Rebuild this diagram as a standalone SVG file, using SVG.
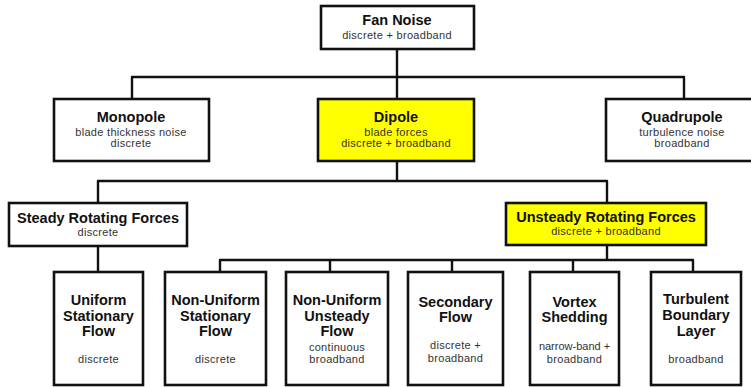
<svg xmlns="http://www.w3.org/2000/svg" width="751" height="387" viewBox="0 0 751 387">
<style>
.box{fill:#fff;stroke:#111;stroke-width:2.6}
.hl{fill:#ffff00}
.t{font-family:"Liberation Sans",Arial,sans-serif;font-weight:bold;font-size:14.5px;fill:#111;text-anchor:middle}
.s{font-family:"Liberation Sans",Arial,sans-serif;font-size:11px;letter-spacing:0.3px;fill:#333;text-anchor:middle}
.c{fill:none;stroke:#111;stroke-width:2.4;stroke-linejoin:round}
</style>
<rect width="751" height="387" fill="#fff"/>
<g id="connectors">
<path class="c" d="M397 49V99M132 99V77H684V99"/>
<path class="c" d="M397 161V181M98 203V181H607V203"/>
<path class="c" d="M98 246V272"/>
<path class="c" d="M607 245V260M220 272V260H693V272M330 260V272M452 260V272M573 260V272"/>
</g>
<g id="fan-noise">
<rect class="box" x="321" y="6" width="153" height="43"/>
<text class="t" x="397" y="25">Fan Noise</text>
<text class="s" x="397" y="39">discrete + broadband</text>
</g>
<g id="monopole">
<rect class="box" x="54" y="99" width="155" height="62"/>
<text class="t" x="131" y="122">Monopole</text>
<text class="s" x="131" y="136">blade thickness noise</text>
<text class="s" x="131" y="147">discrete</text>
</g>
<g id="dipole">
<rect class="box hl" x="318" y="99" width="156" height="62"/>
<text class="t" x="396" y="122">Dipole</text>
<text class="s" x="396" y="136">blade forces</text>
<text class="s" x="396" y="147">discrete + broadband</text>
</g>
<g id="quadrupole">
<rect class="box" x="606" y="99" width="152" height="62"/>
<text class="t" x="682" y="122">Quadrupole</text>
<text class="s" x="682" y="136">turbulence noise</text>
<text class="s" x="682" y="147">broadband</text>
</g>
<g id="steady">
<rect class="box" x="9" y="203" width="178" height="43"/>
<text class="t" x="98" y="223">Steady Rotating Forces</text>
<text class="s" x="98" y="236">discrete</text>
</g>
<g id="unsteady">
<rect class="box hl" x="506" y="203" width="200" height="42"/>
<text class="t" x="606" y="222">Unsteady Rotating Forces</text>
<text class="s" x="606" y="235">discrete + broadband</text>
</g>
<g id="uniform-stationary">
<rect class="box" x="54" y="272" width="89" height="113"/>
<text class="t" x="98.5" y="305">Uniform</text>
<text class="t" x="98.5" y="321">Stationary</text>
<text class="t" x="98.5" y="336">Flow</text>
<text class="s" x="98.5" y="363">discrete</text>
</g>
<g id="non-uniform-stationary">
<rect class="box" x="165" y="272" width="101" height="113"/>
<text class="t" x="215.5" y="305">Non-Uniform</text>
<text class="t" x="215.5" y="321">Stationary</text>
<text class="t" x="215.5" y="336">Flow</text>
<text class="s" x="215.5" y="363">discrete</text>
</g>
<g id="non-uniform-unsteady">
<rect class="box" x="286" y="272" width="102" height="113"/>
<text class="t" x="337" y="305">Non-Uniform</text>
<text class="t" x="337" y="321">Unsteady</text>
<text class="t" x="337" y="336">Flow</text>
<text class="s" x="337" y="351">continuous</text>
<text class="s" x="337" y="363">broadband</text>
</g>
<g id="secondary-flow">
<rect class="box" x="408" y="272" width="95" height="113"/>
<text class="t" x="455.5" y="307">Secondary</text>
<text class="t" x="455.5" y="322">Flow</text>
<text class="s" x="455.5" y="349">discrete +</text>
<text class="s" x="455.5" y="362">broadband</text>
</g>
<g id="vortex-shedding">
<rect class="box" x="530" y="272" width="89" height="113"/>
<text class="t" x="574.5" y="307">Vortex</text>
<text class="t" x="574.5" y="322">Shedding</text>
<text class="s" x="574.5" y="350" style="letter-spacing:0">narrow-band  +</text>
<text class="s" x="574.5" y="363">broadband</text>
</g>
<g id="turbulent-boundary-layer">
<rect class="box" x="651" y="272" width="90" height="113"/>
<text class="t" x="696" y="304">Turbulent</text>
<text class="t" x="696" y="320">Boundary</text>
<text class="t" x="696" y="336">Layer</text>
<text class="s" x="696" y="363">broadband</text>
</g>
</svg>
